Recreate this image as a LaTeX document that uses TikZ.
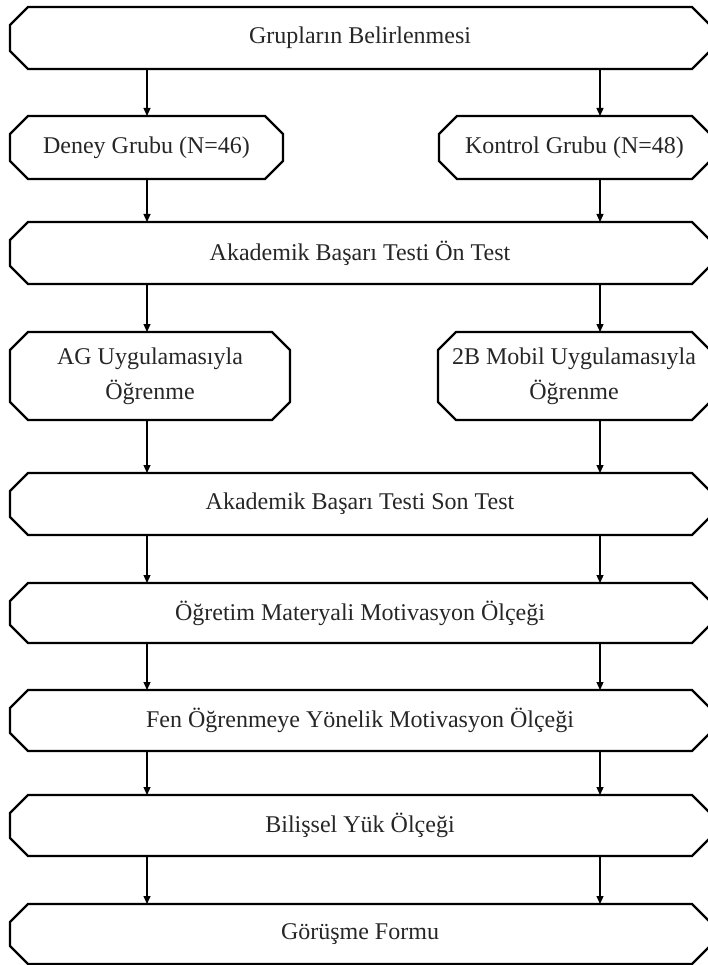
\documentclass[tikz,border=0pt]{standalone}
\usepackage{fontspec}
\setmainfont{Liberation Serif}
\usetikzlibrary{arrows.meta,calc}

\tikzset{
  box/.style={inner sep=0pt, outer sep=0pt, align=center,
    font=\fontsize{24}{35}\selectfont, text=black!85},
  outline/.style={line width=2.2pt, line join=miter},
  arr/.style={line width=1.2pt, -{Triangle[width=7pt,length=8pt]}},
}

% chamfered outline around a named rectangular node
\newcommand{\octo}[1]{%
  \draw[outline] ([xshift=18pt]#1.north west) -- ([xshift=-18pt]#1.north east)
    -- ([yshift=-18pt]#1.north east) -- ([yshift=18pt]#1.south east)
    -- ([xshift=-18pt]#1.south east) -- ([xshift=18pt]#1.south west)
    -- ([yshift=18pt]#1.south west) -- ([yshift=-18pt]#1.north west) -- cycle;}

\begin{document}
\begin{tikzpicture}[x=1pt,y=-1pt]
\useasboundingbox (0,0) rectangle (708,965);
\clip (0,0) rectangle (708,965);

\coordinate (L) at (147,0);
\coordinate (R) at (600,0);

\node[box, minimum width=700pt, minimum height=62pt] (b1)  at (360,38)    {Grupların Belirlenmesi};
\node[box, minimum width=273pt, minimum height=63pt] (b2l) at (146.5,147.5) {Deney Grubu (N=46)};
\node[box, minimum width=271pt, minimum height=63pt] (b2r) at (574.5,147.5) {Kontrol Grubu (N=48)};
\node[box, minimum width=700pt, minimum height=62pt] (b3)  at (360,253)   {Akademik Başarı Testi Ön Test};
\node[box, minimum width=280pt, minimum height=88pt] (b4l) at (150,376)   {AG Uygulamasıyla\\Öğrenme};
\node[box, minimum width=272pt, minimum height=88pt] (b4r) at (574,376)   {2B Mobil Uygulamasıyla\\Öğrenme};
\node[box, minimum width=700pt, minimum height=62pt] (b5)  at (360,504)   {Akademik Başarı Testi Son Test};
\node[box, minimum width=700pt, minimum height=60pt] (b6)  at (360,613)   {Öğretim Materyali Motivasyon Ölçeği};
\node[box, minimum width=700pt, minimum height=61pt] (b7)  at (360,720.5) {Fen Öğrenmeye Yönelik Motivasyon Ölçeği};
\node[box, minimum width=700pt, minimum height=61pt] (b8)  at (360,825.5) {Bilişsel Yük Ölçeği};
\node[box, minimum width=700pt, minimum height=60pt] (b9)  at (360,934)   {Görüşme Formu};

\foreach \n in {b1,b2l,b2r,b3,b4l,b4r,b5,b6,b7,b8,b9} {\octo{\n}}

% left column connectors
\draw[arr] (b1.south -| L)  -- (b2l.north -| L);
\draw[arr] (b2l.south -| L) -- (b3.north -| L);
\draw[arr] (b3.south -| L)  -- (b4l.north -| L);
\draw[arr] (b4l.south -| L) -- (b5.north -| L);
\draw[arr] (b5.south -| L)  -- (b6.north -| L);
\draw[arr] (b6.south -| L)  -- (b7.north -| L);
\draw[arr] (b7.south -| L)  -- (b8.north -| L);
\draw[arr] (b8.south -| L)  -- (b9.north -| L);
% right column connectors
\draw[arr] (b1.south -| R)  -- (b2r.north -| R);
\draw[arr] (b2r.south -| R) -- (b3.north -| R);
\draw[arr] (b3.south -| R)  -- (b4r.north -| R);
\draw[arr] (b4r.south -| R) -- (b5.north -| R);
\draw[arr] (b5.south -| R)  -- (b6.north -| R);
\draw[arr] (b6.south -| R)  -- (b7.north -| R);
\draw[arr] (b7.south -| R)  -- (b8.north -| R);
\draw[arr] (b8.south -| R)  -- (b9.north -| R);
\end{tikzpicture}
\end{document}
